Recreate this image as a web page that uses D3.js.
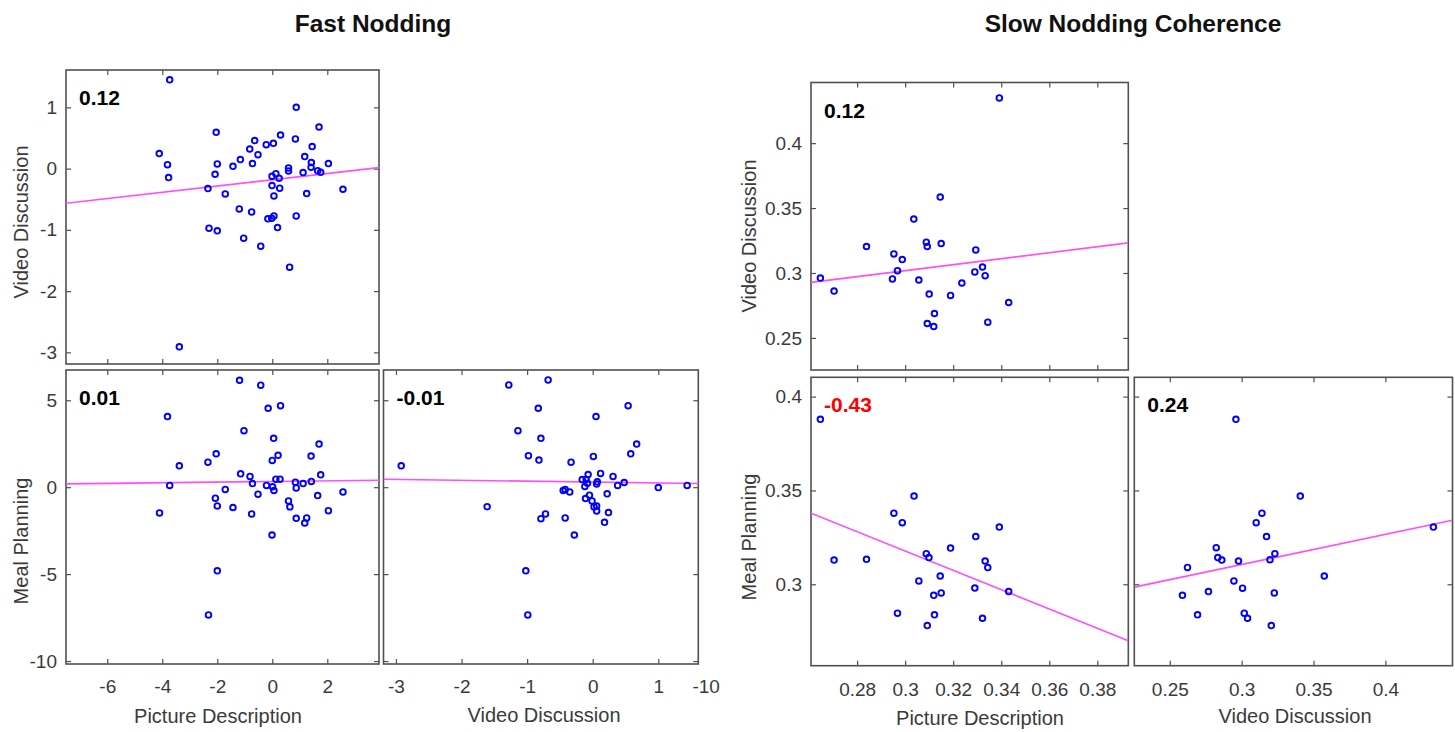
<!DOCTYPE html>
<html>
<head>
<meta charset="utf-8">
<script src="https://cdn.jsdelivr.net/npm/d3@7"></script>
<style>
  body { margin: 0; background: #fff; }
  svg { display: block; }
</style>
</head>
<body>
<svg id="chart" width="1455" height="732"></svg>
<script>
// ---------- Fast nodding (z-scored) ----------
// [Picture Description, Video Discussion]
const fastPictureVideo = [
  [-3.73, 1.45], [-4.11, 0.245], [-3.81, 0.065], [-3.77, -0.147], [-3.38, -2.91],
  [-2.34, -0.326], [-2.30, -0.973], [-2.04, 0.592], [-2.00, 0.076], [-2.08, -0.092],
  [-2.00, -1.016], [-1.71, -0.413], [-1.43, 0.038], [-1.20, -0.658], [-1.16, 0.147],
  [-1.04, -1.136], [-0.82, 0.32], [-0.72, 0.082], [-0.75, -0.707], [-0.64, 0.457],
  [-0.52, 0.228], [-0.42, -1.266], [-0.22, 0.391], [-0.16, -0.82], [-0.02, -0.81],
  [0.04, 0.413], [-0.01, -0.125], [-0.01, -0.277], [0.06, -0.446], [0.06, -0.772],
  [0.13, -0.082], [0.25, -0.158], [0.27, -0.32], [0.19, -0.962], [0.30, 0.549],
  [0.59, 0.011], [0.59, -0.038], [0.63, -1.609], [0.84, 0.484], [0.87, 1.0],
  [0.87, -0.772], [1.12, -0.065], [1.18, 0.196], [1.25, -0.408], [1.41, 0.022],
  [1.42, 0.098], [1.45, 0.359], [1.65, -0.033], [1.76, -0.06], [1.70, 0.679],
  [2.04, 0.082], [2.57, -0.337]
];
// [Picture Description, Meal Planning]
const fastPictureMeal = [
  [-1.19, 6.15], [-0.42, 5.87], [-0.15, 4.54], [0.30, 4.69], [-3.81, 4.06],
  [-1.03, 3.25], [0.05, 2.81], [1.70, 2.48], [-2.04, 1.92], [-2.34, 1.44],
  [-3.38, 1.23], [0.21, 1.83], [1.41, 1.79], [0.00, 1.54], [-1.15, 0.77],
  [-0.81, 0.62], [1.76, 0.71], [-0.72, 0.21], [0.13, 0.46], [0.28, 0.46],
  [0.84, 0.29], [1.12, 0.21], [1.42, 0.33], [-3.73, 0.10], [-0.21, 0.10],
  [0.01, 0.02], [0.87, -0.04], [-1.71, -0.13], [0.06, -0.19], [2.57, -0.27],
  [-0.52, -0.40], [1.65, -0.48], [-2.07, -0.63], [0.59, -0.79], [-2.00, -1.08],
  [-1.43, -1.17], [0.64, -1.13], [2.04, -1.35], [-4.10, -1.48], [-0.75, -1.54],
  [0.87, -1.79], [1.25, -1.77], [1.18, -2.06], [-0.01, -2.75], [-2.00, -4.81],
  [-2.32, -7.35]
];
// [Video Discussion, Meal Planning]
const fastVideoMeal = [
  [-2.92, 1.23], [-1.61, -1.12], [-1.28, 5.88], [-0.68, 6.17], [-1.14, 3.25],
  [-0.83, 4.54], [-0.79, 2.81], [-0.98, 1.81], [-0.82, 1.56], [-0.33, 1.44],
  [-1.02, -4.81], [-0.99, -7.35], [-0.79, -1.81], [-0.72, -1.54], [-0.42, -1.77],
  [-0.28, -2.75], [-0.45, -0.19], [-0.42, -0.13], [-0.35, -0.27], [0.01, 1.77],
  [0.05, 4.06], [0.54, 4.69], [0.67, 2.48], [0.58, 1.92], [0.12, 0.79],
  [0.31, 0.62], [-0.07, 0.73], [-0.16, 0.44], [-0.10, 0.44], [0.07, 0.31],
  [0.06, 0.19], [-0.08, 0.23], [-0.12, 0.04], [0.38, 0.10], [0.48, 0.27],
  [1.00, -0.02], [1.44, 0.10], [-0.05, -0.46], [-0.11, -0.65], [-0.01, -0.79],
  [0.22, -0.38], [0.02, -1.13], [0.06, -1.08], [0.06, -1.37], [0.24, -1.46],
  [0.18, -2.02]
];

// ---------- Slow nodding coherence ----------
// [Picture Description, Video Discussion]
const slowPictureVideo = [
  [0.2647, 0.2961], [0.2704, 0.2861], [0.2839, 0.3204], [0.2953, 0.3147], [0.2988, 0.3103],
  [0.2968, 0.3018], [0.2947, 0.2954], [0.3036, 0.3415], [0.3057, 0.2946], [0.3088, 0.3237],
  [0.3092, 0.3204], [0.3100, 0.2838], [0.3146, 0.3585], [0.3150, 0.3227], [0.3122, 0.2688],
  [0.3092, 0.2611], [0.3119, 0.2588], [0.3189, 0.2827], [0.3236, 0.2923], [0.3294, 0.3178],
  [0.3290, 0.3008], [0.3322, 0.3046], [0.3333, 0.2979], [0.3344, 0.2621], [0.3392, 0.4348],
  [0.3431, 0.2773]
];
// [Picture Description, Meal Planning]
const slowPictureMeal = [
  [0.2647, 0.3879], [0.2704, 0.3129], [0.2839, 0.3133], [0.3037, 0.3470], [0.2953, 0.3379],
  [0.2988, 0.3328], [0.3088, 0.3163], [0.3099, 0.3142], [0.3189, 0.3193], [0.3294, 0.3254],
  [0.3392, 0.3305], [0.3333, 0.3124], [0.3344, 0.3089], [0.3057, 0.3018], [0.3146, 0.3044],
  [0.3119, 0.2941], [0.3150, 0.2954], [0.3290, 0.2980], [0.3431, 0.2961], [0.2968, 0.2846],
  [0.3122, 0.2837], [0.3092, 0.2780], [0.3322, 0.2819]
];
// [Video Discussion, Meal Planning]
const slowVideoMeal = [
  [0.2960, 0.3879], [0.3408, 0.3470], [0.3141, 0.3379], [0.3101, 0.3328], [0.3173, 0.3254],
  [0.4334, 0.3305], [0.2823, 0.3195], [0.2623, 0.3090], [0.2834, 0.3142], [0.2862, 0.3129],
  [0.2978, 0.3124], [0.3197, 0.3131], [0.3231, 0.3163], [0.3575, 0.3044], [0.2946, 0.3018],
  [0.3006, 0.2979], [0.3227, 0.2954], [0.2588, 0.2941], [0.2769, 0.2961], [0.2693, 0.2837],
  [0.3018, 0.2846], [0.3041, 0.2819], [0.3206, 0.2780]
];

// Least-squares lines, [intercept, slope]
const fitFastPictureVideo = [-0.182, 0.051];
const fitFastPictureMeal = [0.329, 0.0185];
const fitFastVideoMeal = [0.294, -0.0519];
const fitSlowPictureVideo = [0.2328, 0.230];
const fitSlowPictureMeal = [0.4719, -0.514];
const fitSlowVideoMeal = [0.2622, 0.161];

// Correlation coefficients
const corrFast = ["0.12", "0.01", "-0.01"];
const corrSlow = ["0.12", "-0.43", "0.24"];

// Axis ranges
const fastPictureRange = [-7.5, 3.88];
const fastVideoRange = [-3.19, 1.61];
const fastMealRange = [-10.17, 6.74];
const slowPictureRange = [0.2608, 0.3929];
const slowVideoRange = [0.2253, 0.4467];
const slowMealRange = [0.2566, 0.4103];

// Tick values
const fastPictureTicks = [-6, -4, -2, 0, 2];
const fastVideoTicks = [-3, -2, -1, 0, 1];
const fastMealTicks = [-10, -5, 0, 5];
const slowPictureTicks = [0.28, 0.30, 0.32, 0.34, 0.36, 0.38];
const slowVideoTicks = [0.25, 0.30, 0.35, 0.40];
const slowMealTicks = [0.30, 0.35, 0.40];
// label left over past the end of the fast video-discussion axis
const fastVideoTrailingLabel = [[1.73, "-10"]];

const titles = ["Fast Nodding", "Slow Nodding Coherence"];

// ---------- layout ----------
const FONT = "'Liberation Sans', Arial, Helvetica, sans-serif";
const AXIS_COLOR = "#505050";
const TEXT_COLOR = "#3a3a3a";

const tickFmt = v => d3.format("~g")(+v.toFixed(4)).replace("−", "-");

const panels = [
  { box: [66, 70, 379, 364], data: fastPictureVideo, fit: fitFastPictureVideo,
    xDom: fastPictureRange, yDom: fastVideoRange, xTicks: fastPictureTicks, yTicks: fastVideoTicks,
    xLab: false, yLab: true, r: corrFast[0], rColor: "#000", padB: 16 },
  { box: [66, 370, 379, 664], data: fastPictureMeal, fit: fitFastPictureMeal,
    xDom: fastPictureRange, yDom: fastMealRange, xTicks: fastPictureTicks, yTicks: fastMealTicks,
    xLab: true, yLab: true, r: corrFast[1], rColor: "#000", padB: 16 },
  { box: [383.5, 370, 698.3, 664], data: fastVideoMeal, fit: fitFastVideoMeal,
    xDom: fastVideoRange, yDom: fastMealRange, xTicks: fastVideoTicks, yTicks: fastMealTicks,
    xLab: true, yLab: false, r: corrFast[2], rColor: "#000", padB: 16, trailing: fastVideoTrailingLabel },
  { box: [811, 82.5, 1128.3, 370], data: slowPictureVideo, fit: fitSlowPictureVideo,
    xDom: slowPictureRange, yDom: slowVideoRange, xTicks: slowPictureTicks, yTicks: slowVideoTicks,
    xLab: false, yLab: true, r: corrSlow[0], rColor: "#000", padB: 17 },
  { box: [811, 377.3, 1128.3, 665.7], data: slowPictureMeal, fit: fitSlowPictureMeal,
    xDom: slowPictureRange, yDom: slowMealRange, xTicks: slowPictureTicks, yTicks: slowMealTicks,
    xLab: true, yLab: true, r: corrSlow[1], rColor: "#ff0000", padB: 17 },
  { box: [1134.3, 377.3, 1452.5, 665.7], data: slowVideoMeal, fit: fitSlowVideoMeal,
    xDom: slowVideoRange, yDom: slowMealRange, xTicks: slowVideoTicks, yTicks: slowMealTicks,
    xLab: true, yLab: false, r: corrSlow[2], rColor: "#000", padB: 17 }
];

const axisTitles = [
  { text: "Video Discussion", x: 28, y: 222, rot: true },
  { text: "Meal Planning", x: 28, y: 541, rot: true },
  { text: "Picture Description", x: 218, y: 723, rot: false },
  { text: "Video Discussion", x: 544, y: 722, rot: false },
  { text: "Video Discussion", x: 756, y: 236, rot: true },
  { text: "Meal Planning", x: 756, y: 537, rot: true },
  { text: "Picture Description", x: 980, y: 725, rot: false },
  { text: "Video Discussion", x: 1295, y: 723, rot: false }
];

const svg = d3.select("#chart");
svg.append("rect").attr("width", 1455).attr("height", 732).attr("fill", "#fff");

// group titles
svg.selectAll("text.title").data(titles).join("text")
  .attr("class", "title")
  .attr("x", (d, i) => i === 0 ? 373 : 1133)
  .attr("y", 32)
  .attr("text-anchor", "middle")
  .attr("font-family", FONT)
  .attr("font-weight", "bold")
  .attr("font-size", 24.5)
  .attr("fill", "#111")
  .text(d => d);

panels.forEach((p, idx) => {
  const [x0, y0, x1, y1] = p.box;
  const x = d3.scaleLinear().domain(p.xDom).range([x0, x1]);
  const y = d3.scaleLinear().domain(p.yDom).range([y1, y0]);
  const g = svg.append("g");

  const clipId = "clip" + idx;
  svg.append("clipPath").attr("id", clipId)
    .append("rect").attr("x", x0).attr("y", y0).attr("width", x1 - x0).attr("height", y1 - y0);

  const styleAxis = (sel, showLabels) => {
    sel.select(".domain").remove();
    sel.selectAll(".tick line").attr("stroke", AXIS_COLOR).attr("stroke-width", 1.2);
    sel.selectAll(".tick text")
      .attr("font-family", FONT).attr("font-size", 19).attr("fill", TEXT_COLOR)
      .style("display", showLabels ? null : "none");
  };

  // ticks pointing inward on all four sides
  g.append("g").attr("transform", `translate(0,${y1})`)
    .call(d3.axisBottom(x).tickValues(p.xTicks).tickSize(-5).tickPadding(p.padB).tickFormat(tickFmt))
    .call(s => styleAxis(s, p.xLab));
  g.append("g").attr("transform", `translate(0,${y0})`)
    .call(d3.axisTop(x).tickValues(p.xTicks).tickSize(-5).tickFormat(""))
    .call(s => styleAxis(s, false));
  g.append("g").attr("transform", `translate(${x0},0)`)
    .call(d3.axisLeft(y).tickValues(p.yTicks).tickSize(-5).tickPadding(9).tickFormat(tickFmt))
    .call(s => styleAxis(s, p.yLab));
  g.append("g").attr("transform", `translate(${x1},0)`)
    .call(d3.axisRight(y).tickValues(p.yTicks).tickSize(-5).tickFormat(""))
    .call(s => styleAxis(s, false));

  if (p.trailing) {
    g.selectAll("text.trail").data(p.trailing).join("text")
      .attr("class", "trail")
      .attr("x", d => x(d[0])).attr("y", y1 + p.padB)
      .attr("dy", "0.71em")
      .attr("text-anchor", "middle")
      .attr("font-family", FONT).attr("font-size", 19).attr("fill", TEXT_COLOR)
      .text(d => d[1]);
  }

  // frame
  g.append("rect")
    .attr("x", x0).attr("y", y0).attr("width", x1 - x0).attr("height", y1 - y0)
    .attr("fill", "none").attr("stroke", AXIS_COLOR).attr("stroke-width", 1.6);

  // regression line
  const [a, b] = p.fit;
  const lineXs = x.domain();
  g.append("line")
    .attr("clip-path", `url(#${clipId})`)
    .attr("x1", x(lineXs[0])).attr("y1", y(a + b * lineXs[0]))
    .attr("x2", x(lineXs[1])).attr("y2", y(a + b * lineXs[1]))
    .attr("stroke", "#ff4dff").attr("stroke-width", 1.6);

  // observations
  g.selectAll("circle").data(p.data).join("circle")
    .attr("cx", d => x(d[0])).attr("cy", d => y(d[1]))
    .attr("r", 2.8)
    .attr("fill", "none").attr("stroke", "#0000ff").attr("stroke-width", 1.9);

  // correlation coefficient
  g.append("text")
    .attr("x", x0 + 13).attr("y", y0 + 35)
    .attr("font-family", FONT).attr("font-weight", "bold").attr("font-size", 21)
    .attr("fill", p.rColor)
    .text(p.r);
});

// axis titles
axisTitles.forEach(t => {
  svg.append("text")
    .attr("transform", `translate(${t.x},${t.y})` + (t.rot ? " rotate(-90)" : ""))
    .attr("text-anchor", "middle")
    .attr("font-family", FONT).attr("font-size", 20).attr("fill", TEXT_COLOR)
    .text(t.text);
});
</script>
</body>
</html>
